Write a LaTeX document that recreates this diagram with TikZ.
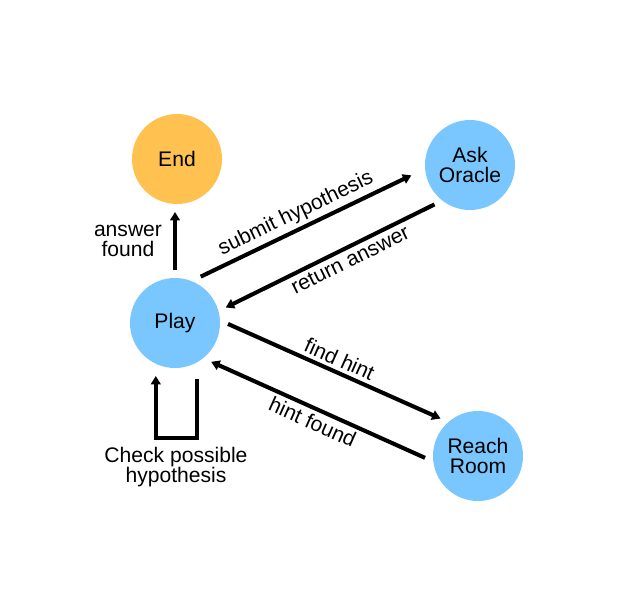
\documentclass[tikz,border=0pt]{standalone}
\usepackage{fontspec}
\setmainfont{Liberation Sans}
\usetikzlibrary{arrows.meta}
\definecolor{sky}{RGB}{122, 199, 255}
\definecolor{amber}{RGB}{255, 194, 80}

\begin{document}
\begin{tikzpicture}[x=0.025cm,y=-0.025cm,
  font=\fontsize{15pt}{14.4pt}\selectfont,
  place/.style={shape=circle,fill=sky,minimum size=2.25cm,inner sep=0pt,outer sep=0.2cm,align=center},
  move/.style={draw=black,line width=2.9pt,-{Triangle[length=6pt,width=7pt]}},
  tag/.style={inner sep=2.5pt}]
\useasboundingbox (0,0) rectangle (639,608);
\node[place,fill=amber] (End) at (177,159) {End};
\node[place] (Ask) at (470,165) {Ask\\Oracle};
\node[place] (Play) at (175,323) {Play};
\node[place] (Reach) at (478,456) {Reach\\Room};

\node[align=center] (found) at (128,241) {answer\\found};
\node[align=center] (check) at (176,467) {Check possible\\hypothesis};

\draw[move] (Play.north) -- (Play.north |- End.south);
\draw[move,shorten >=0.17cm] (Play.61) -- node[tag,pos=0.47,sloped,above] {submit hypothesis} (Ask.188);
\draw[move] (Ask.228) -- node[tag,pos=0.43,sloped,below] {return answer} (Play.17);
\draw[move] (Play.-1) -- node[tag,pos=0.5,sloped,above] {find hint} (Reach.135);
\draw[move] (Reach.182) -- node[tag,pos=0.5,sloped,below] {hint found} (Play.-47);
\draw[move] ([xshift=0.55cm,yshift=-0.075cm]Play.south) -- ++(0,59) -| ([xshift=-0.48cm]Play.south);
\end{tikzpicture}
\end{document}
